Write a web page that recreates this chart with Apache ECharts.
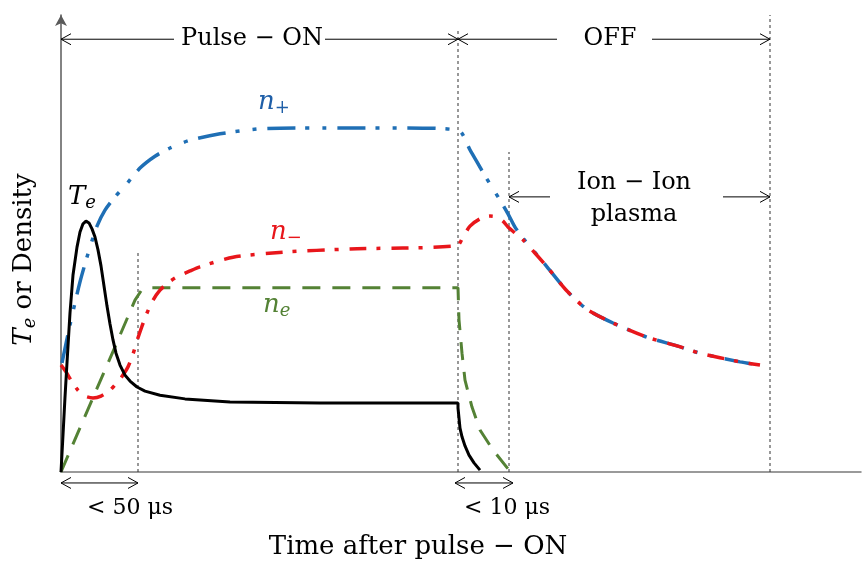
<!DOCTYPE html>
<html><head><meta charset="utf-8">
<script src="https://cdn.jsdelivr.net/npm/echarts@6/dist/echarts.min.js"></script>
<style>html,body{margin:0;padding:0;background:#fff}#c{width:862px;height:569px}</style>
</head><body><div id="c"></div>
<script>
// arbitrary time / density units (schematic)
const teX = [0,0.5,1,1.5,2.25,3,4,4.75,5.5,6.25,7,7.75,8.5,9.25,10,10.75,11.5,12.25,13,13.75,14.75,16,17.25,19,21,24.75,31,42.25,64.75,99.25,99.25,99.5,99.75,100.25,101,102,103.25,104.75];
const teY = [0,8.1,16.4,23.9,34.8,43.1,49.2,52.5,54.3,54.9,54.5,53.2,51.4,48.6,45.1,40.7,36.3,32.4,28.9,26.0,23.4,21.2,19.9,18.6,17.7,16.8,16.0,15.3,15.1,15.1,14.0,11.8,9.6,7.7,5.7,3.7,2.0,0.4];

const neX = [0,9,14,18.5,20,22,99.25,99.5,100.25,101,102.75,104.75,108,111.75,112];
const neY = [0,18.3,28.4,37.6,39.6,40.3,40.3,33.3,26.0,20.1,14.2,9.2,4.8,0.7,0];

const npX = [0.25,2.25,4.75,7.25,9,11,13.5,16,19.75,23.5,27.25,32.25,39.75,49.75,59.75,84.75,99.25,102.25,106,109.75,111.75,113.5,115.5];
const npY = [23.9,32.2,41.6,49.2,53.8,57.3,60.2,62.6,66.5,69.1,70.9,72.6,74.0,75.1,75.3,75.3,74.8,70.5,64.8,59.5,56.5,53.6,51.2];

const nmX = [0,1.25,2.75,4.25,6,8,10,12.25,13.75,15,16.75,18,19,20.25,21.5,23,24.75,26.75,29,32.25,34.75,43,55.5,72.25,99,100.5,102.25,104.75,107.25,109,110.5,111.75,113.5,115.5];
const nmY = [23.4,21.9,19.7,17.9,16.6,16.2,16.6,17.9,19.3,20.6,23.0,25.8,28.7,31.9,34.8,37.6,39.8,41.4,42.7,44.0,44.9,47.0,48.1,48.8,49.5,51.4,53.8,55.4,56.0,55.8,54.9,53.6,52.3,50.8];

// shared ion-ion plasma decay (n+ ≈ n-)
const decayX = [121.5,126.5,131.5,138,146.5,154,159.75,169.75,174.75];
const decayY = [44.9,39.6,35.6,32.6,29.5,27.6,26.0,24.1,23.4];

// vertical dotted guide lines
const vLineX = [19.25, 99.25, 112, 177.25];
const vLineTop = [48.6, 96.7, 70.0, 100];

// double-headed arrows
const arrowFrom = [0, 99.25, 112, 0, 98.5];
const arrowTo = [99.25, 177.25, 177.25, 19.25, 113];
const arrowY = [94.7, 94.7, 60.2, -2.4, -2.4];
const arrowGapFrom = [28.25, 124, 122.25, null, null];
const arrowGapTo = [66, 147.75, 165.5, null, null];

// annotation texts
const noteText = ['Pulse − ON', 'OFF', 'Ion − Ion\nplasma', '< 50 μs', '< 10 μs'];
const noteX = [47.75, 137.25, 143.25, 17.25, 111.5];
const noteY = [94.7, 94.7, 59.7, -7.9, -7.9];
const noteSize = [24, 24, 24, 22, 22];

// curve labels
const labelMain = ['n', 'T', 'n', 'n'];
const labelSub = ['+', 'e', '−', 'e'];
const labelSubItalic = [false, true, false, true];
const labelX = [49.25, 1.75, 52.25, 50.5];
const labelY = [81.0, 60.2, 52.5, 36.5];
const labelColor = ['#1f5fa8', '#000000', '#e8161b', '#548235'];

const SERIF = 'DejaVu Serif';
const zip = (xs, ys) => xs.map((x, i) => [x, ys[i]]);

const chart = echarts.init(document.getElementById('c'), null, {renderer: 'canvas'});

const subRich = (italic) => ({
  m: {fontFamily: SERIF, fontStyle: 'italic', fontSize: 26, lineHeight: 30},
  s: {fontFamily: SERIF, fontStyle: italic ? 'italic' : 'normal', fontSize: 18, lineHeight: 10, verticalAlign: 'bottom'}
});

chart.setOption({
  animation: false,
  backgroundColor: '#fff',
  grid: {left: 61, right: 1, top: 15, bottom: 97},
  xAxis: {
    type: 'value', min: 0, max: 200,
    axisLine: {show: true, lineStyle: {color: '#7a7a7a', width: 1.5}},
    axisTick: {show: false}, axisLabel: {show: false}, splitLine: {show: false},
    name: 'Time after pulse − ON', nameLocation: 'middle', nameGap: 62,
    nameTextStyle: {fontFamily: SERIF, fontSize: 26, color: '#000', padding: [0, 86, 0, 0]}
  },
  yAxis: {
    type: 'value', min: 0, max: 100,
    axisLine: {show: true, symbol: ['none', 'arrow'], symbolSize: [9, 11], lineStyle: {color: '#5a5a5a', width: 1.5}},
    axisTick: {show: false}, axisLabel: {show: false}, splitLine: {show: false},
    name: '{m|T}{s|e}{r| or Density}', nameLocation: 'middle', nameGap: 22,
    nameTextStyle: {
      color: '#000', padding: [0, 32, 0, 0],
      rich: {
        m: {fontFamily: SERIF, fontStyle: 'italic', fontSize: 26, lineHeight: 30, color: '#000'},
        s: {fontFamily: SERIF, fontStyle: 'italic', fontSize: 18, lineHeight: 10, verticalAlign: 'bottom', color: '#000'},
        r: {fontFamily: SERIF, fontSize: 26, lineHeight: 30, color: '#000'}
      }
    }
  },
  series: [
    {
      type: 'custom', z: 1, silent: true,
      data: zip(vLineX, vLineTop),
      renderItem: (params, api) => {
        const i = params.dataIndex;
        const a = api.coord([vLineX[i], 0]);
        const b = api.coord([vLineX[i], vLineTop[i]]);
        return {type: 'line', shape: {x1: a[0], y1: a[1], x2: b[0], y2: b[1]},
          style: {stroke: '#333', lineWidth: 1, lineDash: [3, 3], fill: null}};
      }
    },
    {
      type: 'custom', z: 2, silent: true,
      data: zip(arrowFrom, arrowY),
      renderItem: (params, api) => {
        const i = params.dataIndex;
        const y = arrowY[i];
        const a = api.coord([arrowFrom[i], y]);
        const b = api.coord([arrowTo[i], y]);
        const st = {stroke: '#000', lineWidth: 1, fill: null};
        const ch = [];
        if (arrowGapFrom[i] != null) {
          const g1 = api.coord([arrowGapFrom[i], y]);
          const g2 = api.coord([arrowGapTo[i], y]);
          ch.push({type: 'line', shape: {x1: a[0], y1: a[1], x2: g1[0], y2: g1[1]}, style: st});
          ch.push({type: 'line', shape: {x1: g2[0], y1: g2[1], x2: b[0], y2: b[1]}, style: st});
        } else {
          ch.push({type: 'line', shape: {x1: a[0], y1: a[1], x2: b[0], y2: b[1]}, style: st});
        }
        const L = 10, H = 5.5;
        ch.push({type: 'polyline', shape: {points: [[a[0] + L, a[1] - H], [a[0], a[1]], [a[0] + L, a[1] + H]]}, style: st});
        ch.push({type: 'polyline', shape: {points: [[b[0] - L, b[1] - H], [b[0], b[1]], [b[0] - L, b[1] + H]]}, style: st});
        return {type: 'group', children: ch};
      }
    },
    {
      type: 'custom', z: 3, silent: true,
      data: zip(noteX, noteY),
      renderItem: (params, api) => {
        const i = params.dataIndex;
        const p = api.coord([noteX[i], noteY[i]]);
        return {type: 'text', x: p[0], y: p[1],
          style: {text: noteText[i], fontFamily: SERIF, fontSize: noteSize[i], lineHeight: 32,
            fill: '#000', align: 'center', verticalAlign: 'middle'}};
      }
    },
    {
      type: 'custom', z: 6, silent: true,
      data: zip(labelX, labelY),
      renderItem: (params, api) => {
        const i = params.dataIndex;
        const p = api.coord([labelX[i], labelY[i]]);
        const r = subRich(labelSubItalic[i]);
        r.m.color = labelColor[i]; r.s.color = labelColor[i];
        return {type: 'text', x: p[0], y: p[1],
          style: {text: '{m|' + labelMain[i] + '}{s|' + labelSub[i] + '}', rich: r,
            fill: labelColor[i], align: 'left', verticalAlign: 'middle'}};
      }
    },
    {
      name: 'n+', type: 'line', z: 4, symbol: 'none', smooth: 0.25,
      data: zip(npX.concat(decayX), npY.concat(decayY)),
      lineStyle: {color: '#1f6fb5', width: 3.5, type: [28, 10, 4, 13, 4, 11]}
    },
    {
      name: 'n-', type: 'line', z: 5, symbol: 'none', smooth: 0.25,
      data: zip(nmX.concat(decayX), nmY.concat(decayY)),
      lineStyle: {color: '#e8161b', width: 3.5, type: [17, 10, 4, 11]}
    },
    {
      name: 'ne', type: 'line', z: 4, symbol: 'none', smooth: false,
      data: zip(neX, neY),
      lineStyle: {color: '#548235', width: 3, type: [18, 12]}
    },
    {
      name: 'Te', type: 'line', z: 5, symbol: 'none', smooth: false,
      data: zip(teX, teY),
      lineStyle: {color: '#000', width: 3}
    }
  ]
});
</script>
</body></html>
